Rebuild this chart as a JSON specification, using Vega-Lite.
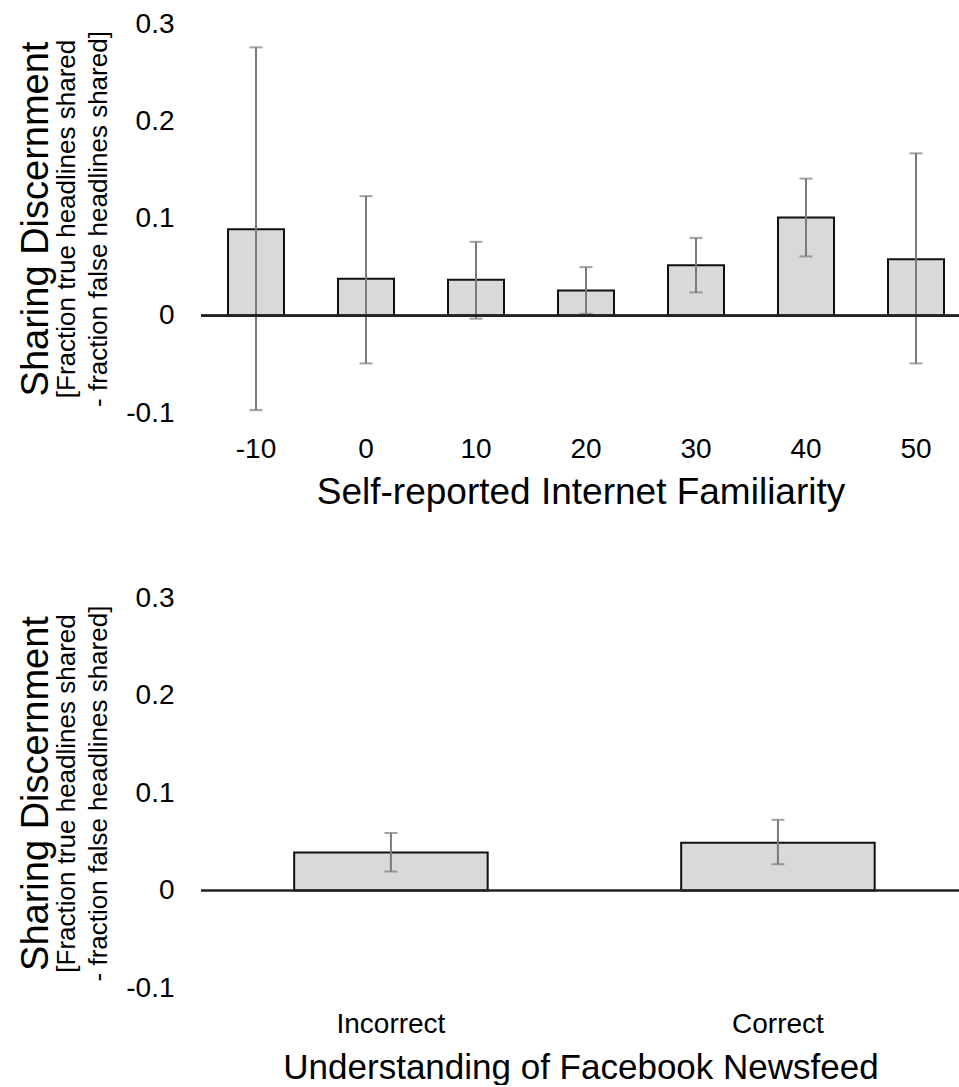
{
  "$schema": "https://vega.github.io/schema/vega-lite/v6.json",
  "padding": {"left": 17, "top": 10, "right": 0, "bottom": 0},
  "spacing": 74,
  "config": {
    "view": {"stroke": null},
    "font": "Liberation Sans",
    "axis": {"labelColor": "#000000", "titleColor": "#000000", "titleFontWeight": "normal", "grid": false, "domain": false, "ticks": false, "tickSize": 0}
  },
  "vconcat": [
    {
      "width": 759,
      "height": 389,
      "data": {"values": [
        {"cat": "-10", "v": 0.089, "lo": -0.097, "hi": 0.276},
        {"cat": "0", "v": 0.038, "lo": -0.049, "hi": 0.123},
        {"cat": "10", "v": 0.037, "lo": -0.003, "hi": 0.076},
        {"cat": "20", "v": 0.026, "lo": 0.002, "hi": 0.050},
        {"cat": "30", "v": 0.052, "lo": 0.024, "hi": 0.080},
        {"cat": "40", "v": 0.101, "lo": 0.061, "hi": 0.141},
        {"cat": "50", "v": 0.058, "lo": -0.049, "hi": 0.167}
      ]},
      "resolve": {"axis": {"y": "independent"}},
      "layer": [
        {
          "mark": {"type": "bar", "fill": "#d9d9d9", "stroke": "#111111", "strokeWidth": 2},
          "encoding": {
            "x": {"field": "cat", "type": "ordinal", "sort": null,
              "scale": {"paddingInner": 0.491, "paddingOuter": 0.1955, "align": 0.628},
              "axis": {"labelAngle": 0, "labelFontSize": 28, "labelPadding": 22, "title": "Self-reported Internet Familiarity", "titleFontSize": 37, "titlePadding": 11}},
            "y": {"field": "v", "type": "quantitative", "scale": {"domain": [-0.1, 0.3], "nice": false, "zero": false},
              "axis": {"orient": "left", "values": [-0.1, 0, 0.1, 0.2, 0.3],
                "labelExpr": "datum.value == 0 ? '0' : (datum.value < 0 ? '-' + format(-datum.value, '.1f') : format(datum.value, '.1f'))",
                "labelFontSize": 28, "labelPadding": 27,
                "title": ["[Fraction true headlines shared", "- fraction false headlines shared]"],
                "titleFontSize": 26, "titleLineHeight": 32, "titlePadding": 14}}
          }
        },
        {
          "mark": {"type": "rule", "color": "#7a7a7a", "strokeWidth": 2},
          "encoding": {
            "x": {"field": "cat", "type": "ordinal", "sort": null},
            "y": {"field": "lo", "type": "quantitative", "axis": null},
            "y2": {"field": "hi"}
          }
        },
        {
          "mark": {"type": "tick", "color": "#7a7a7a", "thickness": 2, "size": 13},
          "encoding": {
            "x": {"field": "cat", "type": "ordinal", "sort": null},
            "y": {"field": "lo", "type": "quantitative", "axis": null}
          }
        },
        {
          "mark": {"type": "tick", "color": "#7a7a7a", "thickness": 2, "size": 13},
          "encoding": {
            "x": {"field": "cat", "type": "ordinal", "sort": null},
            "y": {"field": "hi", "type": "quantitative", "axis": null}
          }
        },
        {
          "mark": {"type": "rule", "color": "#222222", "strokeWidth": 2},
          "encoding": {
            "y": {"datum": 0, "type": "quantitative",
              "axis": {"orient": "left", "labels": false, "title": "Sharing Discernment", "titleFontSize": 38, "titlePadding": 146}}
          }
        }
      ]
    },
    {
      "width": 759,
      "height": 390,
      "data": {"values": [
        {"cat": "Incorrect", "v": 0.039, "lo": 0.0195, "hi": 0.059},
        {"cat": "Correct", "v": 0.049, "lo": 0.027, "hi": 0.0725}
      ]},
      "resolve": {"axis": {"y": "independent"}},
      "layer": [
        {
          "mark": {"type": "bar", "fill": "#d9d9d9", "stroke": "#111111", "strokeWidth": 2},
          "encoding": {
            "x": {"field": "cat", "type": "nominal", "sort": null,
              "scale": {"paddingInner": 0.5, "paddingOuter": 0.2306, "align": 0.522},
              "axis": {"labelAngle": 0, "labelFontSize": 28, "labelPadding": 22, "title": "Understanding of Facebook Newsfeed", "titleFontSize": 35, "titlePadding": 12}},
            "y": {"field": "v", "type": "quantitative", "scale": {"domain": [-0.1, 0.3], "nice": false, "zero": false},
              "axis": {"orient": "left", "values": [-0.1, 0, 0.1, 0.2, 0.3],
                "labelExpr": "datum.value == 0 ? '0' : (datum.value < 0 ? '-' + format(-datum.value, '.1f') : format(datum.value, '.1f'))",
                "labelFontSize": 28, "labelPadding": 27,
                "title": ["[Fraction true headlines shared", "- fraction false headlines shared]"],
                "titleFontSize": 26, "titleLineHeight": 32, "titlePadding": 14}}
          }
        },
        {
          "mark": {"type": "rule", "color": "#7a7a7a", "strokeWidth": 2},
          "encoding": {
            "x": {"field": "cat", "type": "nominal", "sort": null},
            "y": {"field": "lo", "type": "quantitative", "axis": null},
            "y2": {"field": "hi"}
          }
        },
        {
          "mark": {"type": "tick", "color": "#7a7a7a", "thickness": 2, "size": 13},
          "encoding": {
            "x": {"field": "cat", "type": "nominal", "sort": null},
            "y": {"field": "lo", "type": "quantitative", "axis": null}
          }
        },
        {
          "mark": {"type": "tick", "color": "#7a7a7a", "thickness": 2, "size": 13},
          "encoding": {
            "x": {"field": "cat", "type": "nominal", "sort": null},
            "y": {"field": "hi", "type": "quantitative", "axis": null}
          }
        },
        {
          "mark": {"type": "rule", "color": "#222222", "strokeWidth": 2},
          "encoding": {
            "y": {"datum": 0, "type": "quantitative",
              "axis": {"orient": "left", "labels": false, "title": "Sharing Discernment", "titleFontSize": 38, "titlePadding": 146}}
          }
        }
      ]
    }
  ]
}
